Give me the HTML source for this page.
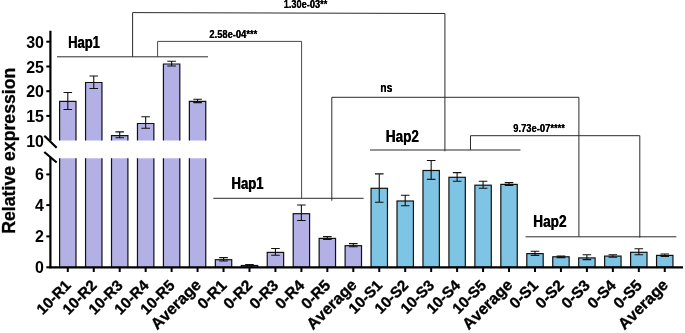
<!DOCTYPE html><html><head><meta charset="utf-8"><style>html,body{margin:0;padding:0;background:#fff}body{width:685px;height:333px;overflow:hidden}</style></head><body><svg width="685" height="333" viewBox="0 0 685 333" style="display:block;will-change:transform">
<rect width="685" height="333" fill="#fff"/>
<rect x="59.60" y="101.30" width="16.4" height="39.20" fill="#B2B0E4"/>
<path d="M59.60 140.5V101.30H76.00V140.5" fill="none" stroke="#111" stroke-width="1.2"/>
<rect x="59.60" y="158.3" width="16.4" height="109.00" fill="#B2B0E4"/>
<path d="M59.60 158.3V267.3M76.00 158.3V267.3" fill="none" stroke="#111" stroke-width="1.2"/>
<path d="M67.80 92.50V109.50M63.50 92.50h8.6M63.50 109.50h8.6" fill="none" stroke="#111" stroke-width="1.1"/>
<rect x="85.56" y="82.50" width="16.4" height="58.00" fill="#B2B0E4"/>
<path d="M85.56 140.5V82.50H101.96V140.5" fill="none" stroke="#111" stroke-width="1.2"/>
<rect x="85.56" y="158.3" width="16.4" height="109.00" fill="#B2B0E4"/>
<path d="M85.56 158.3V267.3M101.96 158.3V267.3" fill="none" stroke="#111" stroke-width="1.2"/>
<path d="M93.76 76.00V88.50M89.46 76.00h8.6M89.46 88.50h8.6" fill="none" stroke="#111" stroke-width="1.1"/>
<rect x="111.51" y="135.70" width="16.4" height="4.80" fill="#B2B0E4"/>
<path d="M111.51 140.5V135.70H127.91V140.5" fill="none" stroke="#111" stroke-width="1.2"/>
<rect x="111.51" y="158.3" width="16.4" height="109.00" fill="#B2B0E4"/>
<path d="M111.51 158.3V267.3M127.91 158.3V267.3" fill="none" stroke="#111" stroke-width="1.2"/>
<path d="M119.71 131.90V137.80M115.41 131.90h8.6M115.41 137.80h8.6" fill="none" stroke="#111" stroke-width="1.1"/>
<rect x="137.47" y="123.50" width="16.4" height="17.00" fill="#B2B0E4"/>
<path d="M137.47 140.5V123.50H153.87V140.5" fill="none" stroke="#111" stroke-width="1.2"/>
<rect x="137.47" y="158.3" width="16.4" height="109.00" fill="#B2B0E4"/>
<path d="M137.47 158.3V267.3M153.87 158.3V267.3" fill="none" stroke="#111" stroke-width="1.2"/>
<path d="M145.66 116.80V128.30M141.36 116.80h8.6M141.36 128.30h8.6" fill="none" stroke="#111" stroke-width="1.1"/>
<rect x="163.42" y="64.00" width="16.4" height="76.50" fill="#B2B0E4"/>
<path d="M163.42 140.5V64.00H179.82V140.5" fill="none" stroke="#111" stroke-width="1.2"/>
<rect x="163.42" y="158.3" width="16.4" height="109.00" fill="#B2B0E4"/>
<path d="M163.42 158.3V267.3M179.82 158.3V267.3" fill="none" stroke="#111" stroke-width="1.2"/>
<path d="M171.62 61.20V66.00M167.32 61.20h8.6M167.32 66.00h8.6" fill="none" stroke="#111" stroke-width="1.1"/>
<rect x="189.37" y="101.30" width="16.4" height="39.20" fill="#B2B0E4"/>
<path d="M189.37 140.5V101.30H205.77V140.5" fill="none" stroke="#111" stroke-width="1.2"/>
<rect x="189.37" y="158.3" width="16.4" height="109.00" fill="#B2B0E4"/>
<path d="M189.37 158.3V267.3M205.77 158.3V267.3" fill="none" stroke="#111" stroke-width="1.2"/>
<path d="M197.57 99.20V102.60M193.27 99.20h8.6M193.27 102.60h8.6" fill="none" stroke="#111" stroke-width="1.1"/>
<rect x="215.33" y="259.70" width="16.4" height="7.60" fill="#B2B0E4" stroke="#111" stroke-width="1.2"/>
<path d="M223.53 257.60V261.00M219.23 257.60h8.6M219.23 261.00h8.6" fill="none" stroke="#111" stroke-width="1.1"/>
<rect x="241.28" y="265.50" width="16.4" height="1.80" fill="#B2B0E4" stroke="#111" stroke-width="1.2"/>
<path d="M249.48 264.60V266.00M245.18 264.60h8.6M245.18 266.00h8.6" fill="none" stroke="#111" stroke-width="1.1"/>
<rect x="267.24" y="252.40" width="16.4" height="14.90" fill="#B2B0E4" stroke="#111" stroke-width="1.2"/>
<path d="M275.44 248.50V255.20M271.14 248.50h8.6M271.14 255.20h8.6" fill="none" stroke="#111" stroke-width="1.1"/>
<rect x="293.19" y="213.70" width="16.4" height="53.60" fill="#B2B0E4" stroke="#111" stroke-width="1.2"/>
<path d="M301.39 205.00V220.50M297.09 205.00h8.6M297.09 220.50h8.6" fill="none" stroke="#111" stroke-width="1.1"/>
<rect x="319.15" y="238.40" width="16.4" height="28.90" fill="#B2B0E4" stroke="#111" stroke-width="1.2"/>
<path d="M327.35 236.60V239.40M323.05 236.60h8.6M323.05 239.40h8.6" fill="none" stroke="#111" stroke-width="1.1"/>
<rect x="345.11" y="245.70" width="16.4" height="21.60" fill="#B2B0E4" stroke="#111" stroke-width="1.2"/>
<path d="M353.31 243.60V246.80M349.00 243.60h8.6M349.00 246.80h8.6" fill="none" stroke="#111" stroke-width="1.1"/>
<rect x="371.06" y="188.30" width="16.4" height="79.00" fill="#7EC5E5" stroke="#111" stroke-width="1.2"/>
<path d="M379.26 173.90V202.30M374.96 173.90h8.6M374.96 202.30h8.6" fill="none" stroke="#111" stroke-width="1.1"/>
<rect x="397.01" y="201.00" width="16.4" height="66.30" fill="#7EC5E5" stroke="#111" stroke-width="1.2"/>
<path d="M405.21 195.20V205.70M400.91 195.20h8.6M400.91 205.70h8.6" fill="none" stroke="#111" stroke-width="1.1"/>
<rect x="422.97" y="170.50" width="16.4" height="96.80" fill="#7EC5E5" stroke="#111" stroke-width="1.2"/>
<path d="M431.17 160.50V179.40M426.87 160.50h8.6M426.87 179.40h8.6" fill="none" stroke="#111" stroke-width="1.1"/>
<rect x="448.93" y="177.30" width="16.4" height="90.00" fill="#7EC5E5" stroke="#111" stroke-width="1.2"/>
<path d="M457.12 172.60V181.30M452.82 172.60h8.6M452.82 181.30h8.6" fill="none" stroke="#111" stroke-width="1.1"/>
<rect x="474.88" y="185.20" width="16.4" height="82.10" fill="#7EC5E5" stroke="#111" stroke-width="1.2"/>
<path d="M483.08 181.30V188.30M478.78 181.30h8.6M478.78 188.30h8.6" fill="none" stroke="#111" stroke-width="1.1"/>
<rect x="500.83" y="184.40" width="16.4" height="82.90" fill="#7EC5E5" stroke="#111" stroke-width="1.2"/>
<path d="M509.03 182.60V185.50M504.73 182.60h8.6M504.73 185.50h8.6" fill="none" stroke="#111" stroke-width="1.1"/>
<rect x="526.79" y="253.60" width="16.4" height="13.70" fill="#7EC5E5" stroke="#111" stroke-width="1.2"/>
<path d="M534.99 251.20V255.40M530.69 251.20h8.6M530.69 255.40h8.6" fill="none" stroke="#111" stroke-width="1.1"/>
<rect x="552.75" y="256.80" width="16.4" height="10.50" fill="#7EC5E5" stroke="#111" stroke-width="1.2"/>
<path d="M560.95 256.10V257.60M556.65 256.10h8.6M556.65 257.60h8.6" fill="none" stroke="#111" stroke-width="1.1"/>
<rect x="578.70" y="257.90" width="16.4" height="9.40" fill="#7EC5E5" stroke="#111" stroke-width="1.2"/>
<path d="M586.90 254.70V259.60M582.60 254.70h8.6M582.60 259.60h8.6" fill="none" stroke="#111" stroke-width="1.1"/>
<rect x="604.65" y="256.10" width="16.4" height="11.20" fill="#7EC5E5" stroke="#111" stroke-width="1.2"/>
<path d="M612.86 254.70V257.20M608.56 254.70h8.6M608.56 257.20h8.6" fill="none" stroke="#111" stroke-width="1.1"/>
<rect x="630.61" y="252.30" width="16.4" height="15.00" fill="#7EC5E5" stroke="#111" stroke-width="1.2"/>
<path d="M638.81 248.80V254.70M634.51 248.80h8.6M634.51 254.70h8.6" fill="none" stroke="#111" stroke-width="1.1"/>
<rect x="656.56" y="255.40" width="16.4" height="11.90" fill="#7EC5E5" stroke="#111" stroke-width="1.2"/>
<path d="M664.76 254.00V256.50M660.47 254.00h8.6M660.47 256.50h8.6" fill="none" stroke="#111" stroke-width="1.1"/>
<path d="M50.4 30.7V140.5M50.4 157.3V268.3" stroke="#000" stroke-width="2.2" fill="none"/>
<path d="M49.3 267.3H683" stroke="#000" stroke-width="2.2" fill="none"/>
<path d="M44.3 135.8L56.7 147.8M44.3 152L56.7 162.5" stroke="#000" stroke-width="2.2" fill="none"/>
<path d="M46.3 41.7H50" stroke="#000" stroke-width="2"/>
<path d="M46.3 66.5H50" stroke="#000" stroke-width="2"/>
<path d="M46.3 91.2H50" stroke="#000" stroke-width="2"/>
<path d="M46.3 115.9H50" stroke="#000" stroke-width="2"/>
<path d="M46.3 174.4H50" stroke="#000" stroke-width="2"/>
<path d="M46.3 205.1H50" stroke="#000" stroke-width="2"/>
<path d="M46.3 236.4H50" stroke="#000" stroke-width="2"/>
<path d="M46.3 267.3H50" stroke="#000" stroke-width="2"/>
<path d="M67.80 267.3V272" stroke="#000" stroke-width="2"/>
<path d="M93.76 267.3V272" stroke="#000" stroke-width="2"/>
<path d="M119.71 267.3V272" stroke="#000" stroke-width="2"/>
<path d="M145.66 267.3V272" stroke="#000" stroke-width="2"/>
<path d="M171.62 267.3V272" stroke="#000" stroke-width="2"/>
<path d="M197.57 267.3V272" stroke="#000" stroke-width="2"/>
<path d="M223.53 267.3V272" stroke="#000" stroke-width="2"/>
<path d="M249.48 267.3V272" stroke="#000" stroke-width="2"/>
<path d="M275.44 267.3V272" stroke="#000" stroke-width="2"/>
<path d="M301.39 267.3V272" stroke="#000" stroke-width="2"/>
<path d="M327.35 267.3V272" stroke="#000" stroke-width="2"/>
<path d="M353.31 267.3V272" stroke="#000" stroke-width="2"/>
<path d="M379.26 267.3V272" stroke="#000" stroke-width="2"/>
<path d="M405.21 267.3V272" stroke="#000" stroke-width="2"/>
<path d="M431.17 267.3V272" stroke="#000" stroke-width="2"/>
<path d="M457.12 267.3V272" stroke="#000" stroke-width="2"/>
<path d="M483.08 267.3V272" stroke="#000" stroke-width="2"/>
<path d="M509.03 267.3V272" stroke="#000" stroke-width="2"/>
<path d="M534.99 267.3V272" stroke="#000" stroke-width="2"/>
<path d="M560.95 267.3V272" stroke="#000" stroke-width="2"/>
<path d="M586.90 267.3V272" stroke="#000" stroke-width="2"/>
<path d="M612.86 267.3V272" stroke="#000" stroke-width="2"/>
<path d="M638.81 267.3V272" stroke="#000" stroke-width="2"/>
<path d="M664.76 267.3V272" stroke="#000" stroke-width="2"/>
<g font-family="Liberation Sans, sans-serif" font-weight="700" font-size="17" text-anchor="end" fill="#000">
<text transform="translate(43.9 47.7) scale(0.94 1)">30</text>
<text transform="translate(43.9 72.5) scale(0.94 1)">25</text>
<text transform="translate(43.9 97.2) scale(0.94 1)">20</text>
<text transform="translate(43.9 121.9) scale(0.94 1)">15</text>
<text transform="translate(43.9 147.3) scale(0.94 1)">10</text>
<text transform="translate(43.9 180.4) scale(0.94 1)">6</text>
<text transform="translate(43.9 211.1) scale(0.94 1)">4</text>
<text transform="translate(43.9 242.4) scale(0.94 1)">2</text>
<text transform="translate(43.9 273.3) scale(0.94 1)">0</text>
</g>
<g font-family="Liberation Sans, sans-serif" font-weight="700" font-size="15.5" text-anchor="end" fill="#000" stroke="#000" stroke-width="0.35" style="font-kerning:none">
<text transform="translate(71.80 286.30) rotate(-45)" font-size="15.1">10-R1</text>
<text transform="translate(97.76 286.30) rotate(-45)" font-size="15.1">10-R2</text>
<text transform="translate(123.71 286.30) rotate(-45)" font-size="15.1">10-R3</text>
<text transform="translate(149.66 286.30) rotate(-45)" font-size="15.1">10-R4</text>
<text transform="translate(175.62 286.30) rotate(-45)" font-size="15.1">10-R5</text>
<text transform="translate(201.97 285.90) rotate(-45)" font-size="16.0">Average</text>
<text transform="translate(227.53 286.30) rotate(-45)" font-size="15.5">0-R1</text>
<text transform="translate(253.48 286.30) rotate(-45)" font-size="15.5">0-R2</text>
<text transform="translate(279.44 286.30) rotate(-45)" font-size="15.5">0-R3</text>
<text transform="translate(305.39 286.30) rotate(-45)" font-size="15.5">0-R4</text>
<text transform="translate(331.35 286.30) rotate(-45)" font-size="15.5">0-R5</text>
<text transform="translate(357.70 285.90) rotate(-45)" font-size="16.0">Average</text>
<text transform="translate(383.26 286.30) rotate(-45)" font-size="15.1">10-S1</text>
<text transform="translate(409.21 286.30) rotate(-45)" font-size="15.1">10-S2</text>
<text transform="translate(435.17 286.30) rotate(-45)" font-size="15.1">10-S3</text>
<text transform="translate(461.12 286.30) rotate(-45)" font-size="15.1">10-S4</text>
<text transform="translate(487.08 286.30) rotate(-45)" font-size="15.1">10-S5</text>
<text transform="translate(513.43 285.90) rotate(-45)" font-size="16.0">Average</text>
<text transform="translate(538.99 286.30) rotate(-45)" font-size="15.5">0-S1</text>
<text transform="translate(564.95 286.30) rotate(-45)" font-size="15.5">0-S2</text>
<text transform="translate(590.90 286.30) rotate(-45)" font-size="15.5">0-S3</text>
<text transform="translate(616.86 286.30) rotate(-45)" font-size="15.5">0-S4</text>
<text transform="translate(642.81 286.30) rotate(-45)" font-size="15.5">0-S5</text>
<text transform="translate(669.16 285.90) rotate(-45)" font-size="16.0">Average</text>
</g>
<g stroke="#2b2b2b" stroke-width="1" fill="none">
<path d="M57 56.8H208"/>
<path d="M213.3 198.3H363.6"/>
<path d="M370 150H520.5"/>
<path d="M525.6 236.8H676.3"/>
<path d="M132.6 56.8V12.6L444.9 13.5V151.3"/>
<path d="M157.6 56.8V41.4H301.6V198.3" stroke="#484848" stroke-linejoin="round"/>
<path d="M331.8 200.7V97.3H578.9V236.8"/>
<path d="M470.5 150V135.7H639.8V237.6"/>
</g>
<text transform="translate(67.96 47.60) scale(0.7655 1)" font-family="Liberation Sans, sans-serif" font-weight="700" font-size="17.01" fill="#000">Hap1</text>
<text transform="translate(68.30 47.60) scale(0.7655 1)" font-family="Liberation Sans, sans-serif" font-weight="700" font-size="17.01" fill="#000">Hap1</text>
<text transform="translate(231.35 188.70) scale(0.7705 1)" font-family="Liberation Sans, sans-serif" font-weight="700" font-size="17.01" fill="#000">Hap1</text>
<text transform="translate(231.69 188.70) scale(0.7705 1)" font-family="Liberation Sans, sans-serif" font-weight="700" font-size="17.01" fill="#000">Hap1</text>
<text transform="translate(385.62 141.60) scale(0.7972 1)" font-family="Liberation Sans, sans-serif" font-weight="700" font-size="17.01" fill="#000">Hap2</text>
<text transform="translate(385.96 141.60) scale(0.7972 1)" font-family="Liberation Sans, sans-serif" font-weight="700" font-size="17.01" fill="#000">Hap2</text>
<text transform="translate(533.12 226.50) scale(0.7997 1)" font-family="Liberation Sans, sans-serif" font-weight="700" font-size="17.01" fill="#000">Hap2</text>
<text transform="translate(533.46 226.50) scale(0.7997 1)" font-family="Liberation Sans, sans-serif" font-weight="700" font-size="17.01" fill="#000">Hap2</text>
<text transform="translate(283.67 8.40) scale(0.7932 1)" font-family="Liberation Sans, sans-serif" font-weight="700" font-size="11.63" fill="#000">1.30e-03**</text>
<text transform="translate(283.77 8.40) scale(0.7932 1)" font-family="Liberation Sans, sans-serif" font-weight="700" font-size="11.63" fill="#000">1.30e-03**</text>
<text transform="translate(209.33 38.40) scale(0.8059 1)" font-family="Liberation Sans, sans-serif" font-weight="700" font-size="11.63" fill="#000">2.58e-04***</text>
<text transform="translate(209.43 38.40) scale(0.8059 1)" font-family="Liberation Sans, sans-serif" font-weight="700" font-size="11.63" fill="#000">2.58e-04***</text>
<text transform="translate(380.27 91.80) scale(0.8206 1)" font-family="Liberation Sans, sans-serif" font-weight="700" font-size="12.65" fill="#000">ns</text>
<text transform="translate(380.37 91.80) scale(0.8206 1)" font-family="Liberation Sans, sans-serif" font-weight="700" font-size="12.65" fill="#000">ns</text>
<text transform="translate(513.22 131.50) scale(0.8083 1)" font-family="Liberation Sans, sans-serif" font-weight="700" font-size="11.63" fill="#000">9.73e-07****</text>
<text transform="translate(513.32 131.50) scale(0.8083 1)" font-family="Liberation Sans, sans-serif" font-weight="700" font-size="11.63" fill="#000">9.73e-07****</text>
<text transform="translate(14.80 232.90) rotate(-90) translate(-0.88 0.00) scale(0.9515 1)" font-family="Liberation Sans, sans-serif" font-weight="700" font-size="18.60" fill="#000" stroke="#000" stroke-width="0.3">Relative expression</text>
</svg></body></html>
